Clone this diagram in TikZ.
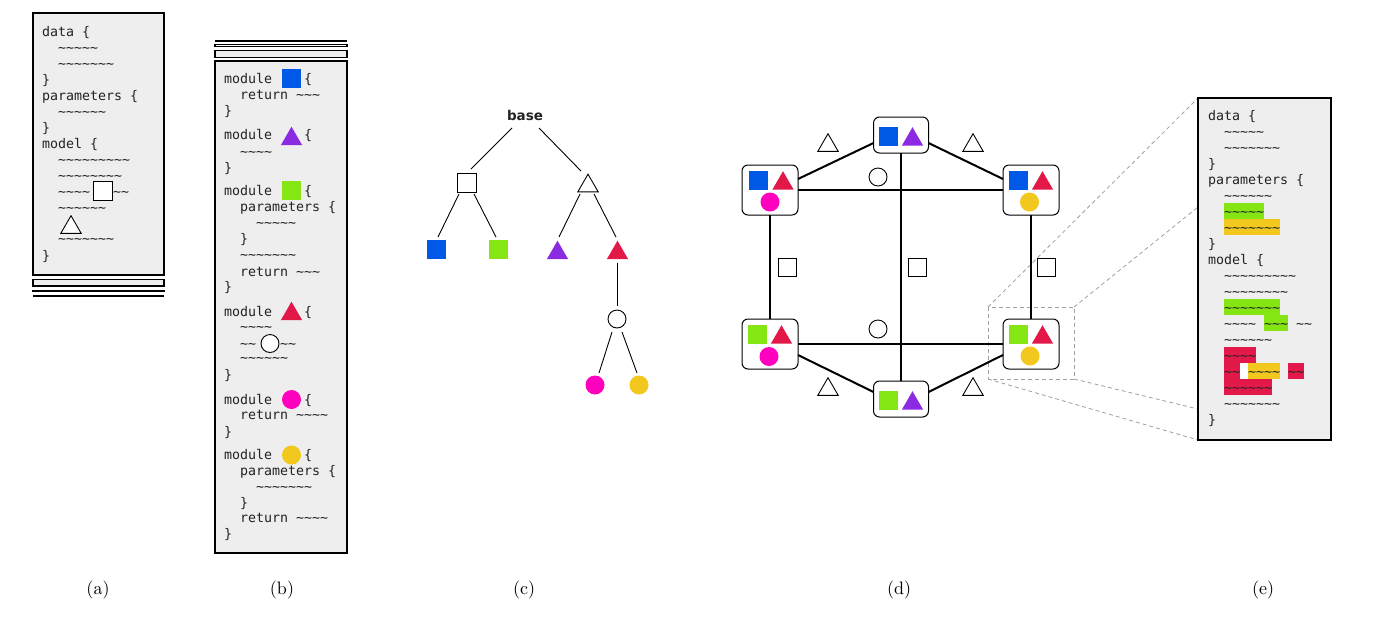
\documentclass[tikz,border=0pt]{standalone}
\usepackage{fontspec}
\usetikzlibrary{shapes.geometric,calc}
\newfontfamily\codefont{DejaVu Sans Mono}
\newfontfamily\boldsans{DejaVu Sans}
\newfontfamily\capfont{lmroman10-regular.otf}
\definecolor{cblue}{RGB}{0,88,230}
\definecolor{cpurple}{RGB}{138,43,226}
\definecolor{cgreen}{RGB}{134,230,20}
\definecolor{cred}{RGB}{226,24,72}
\definecolor{cmag}{RGB}{255,0,190}
\definecolor{cyel}{RGB}{242,200,30}
\definecolor{boxfill}{RGB}{238,238,238}
\definecolor{codecol}{RGB}{34,34,34}
\definecolor{dashgray}{RGB}{160,160,160}
\ExplSyntaxOn
\cs_new:Npn \tls #1 { \prg_replicate:nn {#1} { \textasciitilde } }
\ExplSyntaxOff
\tikzset{
 codeln/.style={font=\codefont\fontsize{13.3}{16}\selectfont, text=codecol, anchor=base west, inner sep=0pt, outer sep=0pt},
 codebox/.style={draw, line width=1.1pt, fill=boxfill, inner sep=0pt, outer sep=0pt, anchor=north west},
 sqW/.style={draw, fill=white, line width=0.9pt, minimum size=19pt, inner sep=0pt, outer sep=0pt},
 sqC/.style={fill=#1, minimum size=19pt, inner sep=0pt, outer sep=0pt},
 triW/.style={regular polygon, regular polygon sides=3, draw, fill=white, line width=0.9pt, minimum size=23.6pt, inner sep=0pt, outer sep=0pt},
 triC/.style={regular polygon, regular polygon sides=3, fill=#1, minimum size=24.6pt, inner sep=0pt, outer sep=0pt},
 circW/.style={circle, draw, fill=white, line width=0.9pt, minimum size=18pt, inner sep=0pt, outer sep=0pt},
 circC/.style={circle, fill=#1, minimum size=19pt, inner sep=0pt, outer sep=0pt},
 tedge/.style={line width=0.9pt},
 dedge/.style={line width=2pt},
 dnode/.style={draw, line width=1pt, rounded corners=6pt, fill=white, inner sep=0pt, outer sep=0pt},
 zoomline/.style={draw=dashgray, line width=0.8pt, dash pattern=on 4pt off 3pt},
 subcap/.style={font=\capfont\fontsize{18}{22}\selectfont, inner sep=0pt},
}
\begin{document}
\begin{tikzpicture}[x=1pt,y=-1pt]
\useasboundingbox (0,0) rectangle (1398,638);

% ================= panel (a)
\node[codebox, minimum width=131pt, minimum height=262pt] (pa) at (33,13) {};
\draw[line width=1.1pt, fill=boxfill] (33,279.5) rectangle (164,286);
\draw[line width=1.1pt] (33,290.3) rectangle (164,291.7);
\draw[line width=1.1pt] (33,296) -- (164,296);
\node[codeln] (a1) at (42,36) {data \{};
\node[codeln] (a2) at (58,52) {\tls{5}};
\node[codeln] (a3) at (58,68) {\tls{7}};
\node[codeln] (a4) at (42,84) {\}};
\node[codeln] (a5) at (42,100) {parameters \{};
\node[codeln] (a6) at (58,116) {\tls{6}};
\node[codeln] (a7) at (42,132) {\}};
\node[codeln] (a8) at (42,148) {model \{};
\node[codeln] (a9) at (58,164) {\tls{9}};
\node[codeln] (a10) at (58,180) {\tls{8}};
\node[codeln] (a11) at (58,196) {\tls{4}};
\node[sqW] (asq) at (102.5,191) {};
\node[codeln] (a12) at (113,196) {\tls{2}};
\node[codeln] (a13) at (58,212) {\tls{6}};
\node[triW] (atri) at (71,227.5) {};
\node[codeln] (a14) at (58,243) {\tls{7}};
\node[codeln] (a15) at (42,260) {\}};

% ================= panel (b)
\draw[line width=1.1pt] (215,41) -- (347,41);
\draw[line width=1.1pt] (215,44.3) rectangle (347,46.3);
\draw[line width=1.1pt, fill=boxfill] (215,50.7) rectangle (347,57.3);
\node[codebox, minimum width=132pt, minimum height=492pt] (pb) at (215,61) {};
\node[codeln] (b1) at (224,83) {module};
\node[sqC=cblue] (bsq1) at (291.5,78.5) {};
\node[codeln] (b1b) at (304,83) {\{};
\node[codeln] (b2) at (240,99) {return \tls{3}};
\node[codeln] (b3) at (224,115) {\}};
\node[codeln] (b4) at (224,139.5) {module};
\node[triC=cpurple] (btri1) at (291.5,139) {};
\node[codeln] (b4b) at (304,139.5) {\{};
\node[codeln] (b5) at (240,156) {\tls{4}};
\node[codeln] (b6) at (224,172) {\}};
\node[codeln] (b7) at (224,195.5) {module};
\node[sqC=cgreen] (bsq2) at (291.5,190) {};
\node[codeln] (b7b) at (304,195.5) {\{};
\node[codeln] (b8) at (240,211.5) {parameters \{};
\node[codeln] (b9) at (256,227.5) {\tls{5}};
\node[codeln] (b10) at (240,243.5) {\}};
\node[codeln] (b11) at (240,259.5) {\tls{7}};
\node[codeln] (b12) at (240,276) {return \tls{3}};
\node[codeln] (b13) at (224,291.5) {\}};
\node[codeln] (b14) at (224,316.5) {module};
\node[triC=cred] (btri2) at (291.5,314) {};
\node[codeln] (b14b) at (304,316.5) {\{};
\node[codeln] (b15) at (240,331.5) {\tls{4}};
\node[codeln] (b16) at (240,348.5) {\tls{2}};
\node[circW] (bcirc) at (270,343.5) {};
\node[codeln] (b16b) at (280,348.5) {\tls{2}};
\node[codeln] (b17) at (240,362.5) {\tls{6}};
\node[codeln] (b18) at (224,379.5) {\}};
\node[codeln] (b19) at (224,404.5) {module};
\node[circC=cmag] (bc1) at (291.5,399.5) {};
\node[codeln] (b19b) at (304,404.5) {\{};
\node[codeln] (b20) at (240,419.5) {return \tls{4}};
\node[codeln] (b21) at (224,436.5) {\}};
\node[codeln] (b22) at (224,459.5) {module};
\node[circC=cyel] (bc2) at (291.5,455) {};
\node[codeln] (b22b) at (304,459.5) {\{};
\node[codeln] (b23) at (240,475.5) {parameters \{};
\node[codeln] (b24) at (256,491.5) {\tls{7}};
\node[codeln] (b25) at (240,507.5) {\}};
\node[codeln] (b26) at (240,522.5) {return \tls{4}};
\node[codeln] (b27) at (224,538.5) {\}};

% ================= panel (c)
\node[font=\boldsans\bfseries\fontsize{13.5}{16}\selectfont, inner sep=0pt, text=codecol] (base) at (525,115) {base};
\node[sqW] (csq) at (467,183) {};
\node[triW] (ctri) at (588,186) {};
\node[sqC=cblue] (cblue) at (436.5,249) {};
\node[sqC=cgreen] (cgreen) at (498.5,249) {};
\node[triC=cpurple] (cpur) at (557.5,253) {};
\node[triC=cred] (cred) at (617.5,253) {};
\node[circW] (ccirc) at (617,319) {};
\node[circC=cmag] (cmag) at (595,385) {};
\node[circC=cyel] (cyel) at (639,385) {};
\draw[tedge] ($(base)+(-13,13)$) -- ($(csq)+(4,-14)$);
\draw[tedge] ($(base)+(14,13)$) -- ($(ctri)+(-7,-15)$);
\draw[tedge] ($(csq)+(-8,11)$) -- ($(cblue)+(1.5,-12)$);
\draw[tedge] ($(csq)+(7,11)$) -- ($(cgreen)+(-2.5,-12)$);
\draw[tedge] ($(ctri)+(-8,8)$) -- ($(cpur)+(1.5,-16)$);
\draw[tedge] ($(ctri)+(6,8)$) -- ($(cred)+(-1.5,-16)$);
\draw[tedge] ($(cred)+(-0.5,10)$) -- ($(ccirc)+(0,-13)$);
\draw[tedge] ($(ccirc)+(-5,13)$) -- ($(cmag)+(4,-12)$);
\draw[tedge] ($(ccirc)+(5,13)$) -- ($(cyel)+(-2,-12)$);

% ================= zoom frame and lines
\coordinate (zTL) at (988,307);
\coordinate (zTR) at (1074,307);
\coordinate (zBR) at (1074,379);
\coordinate (zBL) at (988,379);
\draw[zoomline] (zTL) rectangle (zBR);
\node[codebox, minimum width=133pt, minimum height=342pt, draw=none, fill=none] (pe) at (1198,98) {};
\draw[zoomline] (zTL) -- (pe.north west);
\draw[zoomline] (zTR) -- ($(pe.north west)+(0,109)$);
\draw[zoomline] (zBR) -- ($(pe.north west)+(0,311)$);
\draw[zoomline] (zBL) -- (pe.south west);

% ================= panel (d)
\node[dnode, minimum width=55pt, minimum height=36pt] (T) at (901,135) {};
\node[dnode, minimum width=56pt, minimum height=50pt] (UL) at (770,190) {};
\node[dnode, minimum width=56pt, minimum height=50pt] (UR) at (1031,190) {};
\node[dnode, minimum width=56pt, minimum height=50pt] (LL) at (770,344) {};
\node[dnode, minimum width=56pt, minimum height=50pt] (LR) at (1031,344) {};
\node[dnode, minimum width=55pt, minimum height=36pt] (B) at (901,399) {};
\draw[dedge] ($(T.west)+(0,8)$) -- ($(UL.east)+(0,-11)$);
\draw[dedge] ($(T.east)+(0,8)$) -- ($(UR.west)+(0,-11)$);
\draw[dedge] (UL) -- (UR);
\draw[dedge] (T) -- (B);
\draw[dedge] (UL) -- (LL);
\draw[dedge] (UR) -- (LR);
\draw[dedge] (LL) -- (LR);
\draw[dedge] ($(LL.east)+(0,11)$) -- ($(B.west)+(0,-7)$);
\draw[dedge] ($(LR.west)+(0,11)$) -- ($(B.east)+(0,-7)$);
% contents
\node[sqC=cblue] (Ts) at (888.5,136.5) {};
\node[triC=cpurple] (Tt) at (912.5,139.5) {};
\node[sqC=cgreen] (Bs) at (888.5,400.5) {};
\node[triC=cpurple] (Bt) at (912.5,403.5) {};
\node[sqC=cblue] (ULs) at (758.5,180.5) {};
\node[triC=cred] (ULt) at (783,183.5) {};
\node[circC=cmag] (ULc) at (770,202) {};
\node[sqC=cblue] (URs) at (1018.5,180.5) {};
\node[triC=cred] (URt) at (1042.5,183.5) {};
\node[circC=cyel] (URc) at (1029.5,202) {};
\node[sqC=cgreen] (LLs) at (757.5,334.5) {};
\node[triC=cred] (LLt) at (781.5,337.5) {};
\node[circC=cmag] (LLc) at (769,356.5) {};
\node[sqC=cgreen] (LRs) at (1018.5,334.5) {};
\node[triC=cred] (LRt) at (1042.5,337.5) {};
\node[circC=cyel] (LRc) at (1030,356) {};
% edge labels
\node[triW] (dl1) at (828,145.5) {};
\node[triW] (dl2) at (973,145.5) {};
\node[triW] (dl3) at (828,389.5) {};
\node[triW] (dl4) at (973,389.5) {};
\node[circW] (dl5) at (878,177) {};
\node[circW] (dl6) at (878,329) {};
\node[sqW, minimum size=18pt] (dl7) at (787,267.5) {};
\node[sqW, minimum size=18pt] (dl8) at (917,267.5) {};
\node[sqW, minimum size=18pt] (dl9) at (1046.5,267.5) {};

% ================= panel (e)
\node[codebox, minimum width=133pt, minimum height=342pt] (pe2) at (1198,98) {};
\fill[cgreen] (1224,203) rectangle (1264,219);
\fill[cyel] (1224,219) rectangle (1280,235);
\fill[cgreen] (1224,299) rectangle (1280,315);
\fill[cgreen] (1264,315) rectangle (1288,331);
\fill[cred] (1224,347) rectangle (1256,363);
\fill[cred] (1224,363) rectangle (1240,379);
\fill[white] (1240,363) rectangle (1248,379);
\fill[cyel] (1248,363) rectangle (1280,379);
\fill[cred] (1288,363) rectangle (1304,379);
\fill[cred] (1224,379) rectangle (1272,395);
\node[codeln] (e0) at (1208,120.5) {data \{};
\node[codeln] (e1) at (1224,136.5) {\tls{5}};
\node[codeln] (e2) at (1224,152.5) {\tls{7}};
\node[codeln] (e3) at (1208,168.5) {\}};
\node[codeln] (e4) at (1208,184.5) {parameters \{};
\node[codeln] (e5) at (1224,200.5) {\tls{6}};
\node[codeln] (e6) at (1224,216.5) {\tls{5}};
\node[codeln] (e7) at (1224,232.5) {\tls{7}};
\node[codeln] (e8) at (1208,248.5) {\}};
\node[codeln] (e9) at (1208,264.5) {model \{};
\node[codeln] (e10) at (1224,280.5) {\tls{9}};
\node[codeln] (e11) at (1224,296.5) {\tls{8}};
\node[codeln] (e12) at (1224,312.5) {\tls{7}};
\node[codeln] (e13) at (1224,328.5) {\tls{4} \tls{3} \tls{2}};
\node[codeln] (e14) at (1224,344.5) {\tls{6}};
\node[codeln] (e15) at (1224,360.5) {\tls{4}};
\node[codeln] (e16) at (1224,376.5) {\tls{2} \tls{4} \tls{2}};
\node[codeln] (e17) at (1224,392.5) {\tls{6}};
\node[codeln] (e18) at (1224,408.5) {\tls{7}};
\node[codeln] (e19) at (1208,424.5) {\}};

% ================= captions
\node[subcap] (capa) at (98,590) {(a)};
\node[subcap] (capb) at (282,590) {(b)};
\node[subcap] (capc) at (524,590) {(c)};
\node[subcap] (capd) at (899,590) {(d)};
\node[subcap] (cape) at (1263,590) {(e)};
\end{tikzpicture}
\end{document}
